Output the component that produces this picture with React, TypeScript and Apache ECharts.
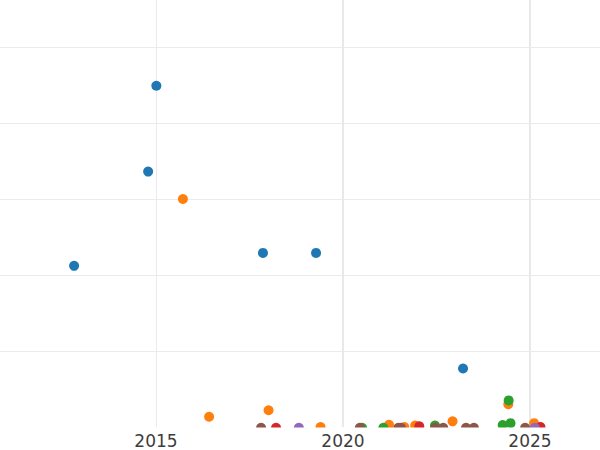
import React, { useEffect, useRef } from "react";
import * as echarts from "echarts";

// decimal year, value
const blueX = [2012.81, 2014.79, 2015.01, 2017.86, 2019.28, 2023.21];
const blueY = [212, 336, 449, 229, 229, 77];
const orangeX = [2015.72, 2016.42, 2018.01, 2019.4, 2021.23, 2021.64, 2021.93, 2022.93, 2024.42, 2025.11, 2025.27];
const orangeY = [300, 13.5, 22, 0, 3, 0, 2, 7.5, 30, 5, 0];
const greenX = [2020.51, 2021.08, 2022.46, 2024.43, 2024.27, 2024.48];
const greenY = [-1, -1, 2, 35, 2.5, 5];
const redX = [2018.21, 2022.04, 2025.28];
const redY = [-1, 1, 0];
const purpleX = [2018.82, 2025.13];
const purpleY = [-1, -1];
const brownX = [2017.81, 2020.45, 2021.48, 2021.55, 2022.47, 2022.68, 2023.29, 2023.5, 2024.87];
const brownY = [-1, -1, -1, -1, -1, -1, -1, -1, -1];

const yearTicks = [2015, 2020, 2025];
const colors = ["#1f77b4", "#ff7f0e", "#2ca02c", "#d62728", "#9467bd", "#8c564b"];

const zip = (xs: number[], ys: number[]) => xs.map((x, i) => [x, ys[i]]);

export default function App() {
  const ref = useRef<HTMLDivElement>(null);
  useEffect(() => {
    if (!ref.current) return;
    const chart = echarts.init(ref.current, null, { renderer: "svg" });
    const groups = [
      zip(blueX, blueY),
      zip(orangeX, orangeY),
      zip(greenX, greenY),
      zip(redX, redY),
      zip(purpleX, purpleY),
      zip(brownX, brownY),
    ];
    const bottom = 23;
    chart.setOption({
      animation: false,
      grid: { left: 0, right: 0, top: 0, bottom, containLabel: false },
      graphic: [
        {
          type: "rect",
          z: 5,
          silent: true,
          shape: { x: 0, y: 450 - bottom + 0.5, width: 600, height: bottom },
          style: { fill: "#ffffff" },
        },
      ],
      xAxis: {
        type: "value",
        z: 10,
        min: 2010.829,
        max: 2026.872,
        axisLine: { show: false },
        axisTick: { show: false, customValues: yearTicks },
        splitLine: { show: false },
        axisLabel: {
          customValues: yearTicks,
          formatter: (v: number) => String(Math.round(v)),
          fontFamily: "DejaVu Sans",
          fontSize: 17,
          color: "#3d3d3d",
          margin: 5,
        },
      },
      yAxis: {
        type: "value",
        min: 0,
        max: 561.8,
        interval: 100,
        axisLine: { show: false },
        axisTick: { show: false },
        axisLabel: { show: false },
        splitLine: { show: true, showMinLine: false, showMaxLine: false, lineStyle: { color: "#ebebeb", width: 1 } },
      },
      series: groups.map((data, i) => ({
        type: "scatter",
        data,
        symbolSize: 10,
        itemStyle: { color: colors[i], opacity: 1 },
        clip: false,
        ...(i === 0
          ? {
              markLine: {
                silent: true,
                symbol: ["none", "none"],
                label: { show: false },
                z: 0,
                data: yearTicks.map((y, k) => ({
                  xAxis: y,
                  lineStyle: { color: k === 0 ? "#ebebeb" : "#e9e9e9", width: k === 0 ? 1 : 2, type: "solid" },
                })),
              },
            }
          : {}),
      })),
    });
    return () => chart.dispose();
  }, []);
  return <div ref={ref} style={{ width: 600, height: 450, position: "absolute", left: 0, top: 0 }} />;
}
